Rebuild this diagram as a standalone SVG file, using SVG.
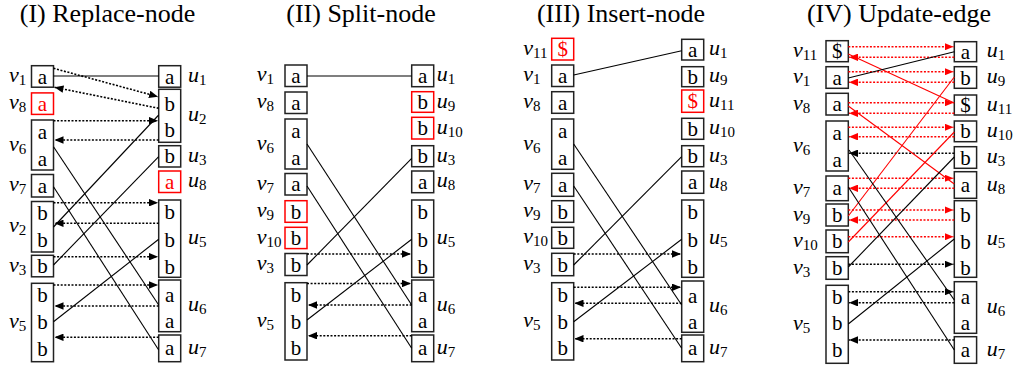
<svg xmlns="http://www.w3.org/2000/svg" width="1017" height="370" viewBox="0 0 1017 370" font-family="'Liberation Serif', 'Times New Roman', Times, 'DejaVu Serif', serif">
<style>
.box{fill:#fff;stroke:#222;stroke-width:1.5}
.rbox{fill:#fff;stroke:#f00;stroke-width:1.5}
.ch{font-family:'Liberation Serif','Times New Roman',Times,'DejaVu Serif',serif;font-size:21px;text-anchor:middle;fill:#000}
.rch{fill:#f00}
.lb{font-family:'Liberation Serif','Times New Roman',Times,'DejaVu Serif',serif;font-size:22px;fill:#000}
.it{font-style:italic}
.sub{font-size:15px}
.title{font-family:'Liberation Serif','Times New Roman',Times,'DejaVu Serif',serif;font-size:26px;text-anchor:middle;fill:#000}
.sl{stroke:#000;stroke-width:1.1;fill:none}
.rsl{stroke:#f00;stroke-width:1.1;fill:none}
.dl{stroke:#000;stroke-width:1.6;stroke-dasharray:2 1.6;fill:none;marker-end:url(#ah)}
.rdl{stroke:#f00;stroke-width:1.6;stroke-dasharray:2 1.6;fill:none;marker-end:url(#ahr)}
</style>
<defs>
<marker id="ah" viewBox="0 0 9 7.5" refX="9" refY="3.75" markerWidth="9" markerHeight="7.5" markerUnits="userSpaceOnUse" orient="auto"><path d="M0,0L9,3.75L0,7.5z" fill="#000"/></marker>
<marker id="ahr" viewBox="0 0 9 7.5" refX="9" refY="3.75" markerWidth="9" markerHeight="7.5" markerUnits="userSpaceOnUse" orient="auto"><path d="M0,0L9,3.75L0,7.5z" fill="#f00"/></marker>
</defs>
<rect width="1017" height="370" fill="#fff"/>

<g id="titles">
<text class="title" x="107.5" y="22">(I) Replace-node</text>
<text class="title" x="361" y="22">(II) Split-node</text>
<text class="title" x="621" y="22">(III) Insert-node</text>
<text class="title" x="899" y="22">(IV) Update-edge</text>
</g>

<!-- Panel I -->
<g id="p1-v1"><rect class="box" x="31.5" y="65.7" width="22" height="21.5"/><text class="ch" x="42.5" y="83.5">a</text><text class="lb" x="9" y="82"><tspan class="it">v</tspan><tspan class="sub" dy="3">1</tspan></text></g>
<g id="p1-v8"><rect class="rbox" x="31.5" y="92.9" width="22" height="21.5"/><text class="ch rch" x="42.5" y="110.6">a</text><text class="lb" x="9" y="109"><tspan class="it">v</tspan><tspan class="sub" dy="3">8</tspan></text></g>
<g id="p1-v6"><rect class="box" x="31.5" y="120" width="22" height="50"/><text class="ch" x="42.5" y="138.5">a</text><text class="ch" x="42.5" y="165.5">a</text><text class="lb" x="9" y="150.5"><tspan class="it">v</tspan><tspan class="sub" dy="3">6</tspan></text></g>
<g id="p1-v7"><rect class="box" x="31.5" y="174.5" width="22" height="22.5"/><text class="ch" x="42.5" y="192.7">a</text><text class="lb" x="9" y="191.2"><tspan class="it">v</tspan><tspan class="sub" dy="3">7</tspan></text></g>
<g id="p1-v2"><rect class="box" x="31.5" y="201.5" width="22" height="50.5"/><text class="ch" x="42.5" y="220">b</text><text class="ch" x="42.5" y="247">b</text><text class="lb" x="9" y="232.2"><tspan class="it">v</tspan><tspan class="sub" dy="3">2</tspan></text></g>
<g id="p1-v3"><rect class="box" x="31.5" y="255.3" width="22" height="21.5"/><text class="ch" x="42.5" y="273">b</text><text class="lb" x="9" y="271.5"><tspan class="it">v</tspan><tspan class="sub" dy="3">3</tspan></text></g>
<g id="p1-v5"><rect class="box" x="31.5" y="283.3" width="22" height="78.4"/><text class="ch" x="42.5" y="302">b</text><text class="ch" x="42.5" y="329">b</text><text class="ch" x="42.5" y="356">b</text><text class="lb" x="9" y="328"><tspan class="it">v</tspan><tspan class="sub" dy="3">5</tspan></text></g>
<g id="p1-u1"><rect class="box" x="158.7" y="65.7" width="22" height="21.5"/><text class="ch" x="169.7" y="83.5">a</text><text class="lb" x="188" y="82"><tspan class="it">u</tspan><tspan class="sub" dy="3">1</tspan></text></g>
<g id="p1-u2"><rect class="box" x="158.7" y="89.3" width="22" height="53"/><text class="ch" x="169.7" y="111">b</text><text class="ch" x="169.7" y="137">b</text><text class="lb" x="188" y="121.3"><tspan class="it">u</tspan><tspan class="sub" dy="3">2</tspan></text></g>
<g id="p1-u3"><rect class="box" x="158.7" y="145.7" width="22" height="21.3"/><text class="ch" x="169.7" y="163.3">b</text><text class="lb" x="188" y="161.8"><tspan class="it">u</tspan><tspan class="sub" dy="3">3</tspan></text></g>
<g id="p1-u8"><rect class="rbox" x="158.7" y="171" width="22" height="21.5"/><text class="ch rch" x="169.7" y="188.7">a</text><text class="lb" x="188" y="187.2"><tspan class="it">u</tspan><tspan class="sub" dy="3">8</tspan></text></g>
<g id="p1-u5"><rect class="box" x="158.7" y="200" width="22" height="77.3"/><text class="ch" x="169.7" y="218.7">b</text><text class="ch" x="169.7" y="247">b</text><text class="ch" x="169.7" y="273.7">b</text><text class="lb" x="188" y="244"><tspan class="it">u</tspan><tspan class="sub" dy="3">5</tspan></text></g>
<g id="p1-u6"><rect class="box" x="158.7" y="280" width="22" height="51.7"/><text class="ch" x="169.7" y="302">a</text><text class="ch" x="169.7" y="327.7">a</text><text class="lb" x="188" y="311.3"><tspan class="it">u</tspan><tspan class="sub" dy="3">6</tspan></text></g>
<g id="p1-u7"><rect class="box" x="158.7" y="335" width="22" height="26.7"/><text class="ch" x="169.7" y="355.3">a</text><text class="lb" x="188" y="353.8"><tspan class="it">u</tspan><tspan class="sub" dy="3">7</tspan></text></g>

<!-- Panel II -->
<g id="p2-v1"><rect class="box" x="285" y="65" width="22" height="21.5"/><text class="ch" x="296" y="82.8">a</text><text class="lb" x="256.7" y="81.3"><tspan class="it">v</tspan><tspan class="sub" dy="3">1</tspan></text></g>
<g id="p2-v8"><rect class="box" x="285" y="92" width="22" height="21.5"/><text class="ch" x="296" y="109.8">a</text><text class="lb" x="256.7" y="108.3"><tspan class="it">v</tspan><tspan class="sub" dy="3">8</tspan></text></g>
<g id="p2-v6"><rect class="box" x="285" y="119" width="22" height="50"/><text class="ch" x="296" y="137.5">a</text><text class="ch" x="296" y="164.5">a</text><text class="lb" x="256.7" y="149.5"><tspan class="it">v</tspan><tspan class="sub" dy="3">6</tspan></text></g>
<g id="p2-v7"><rect class="box" x="285" y="173.5" width="22" height="21.5"/><text class="ch" x="296" y="191.3">a</text><text class="lb" x="256.7" y="189.8"><tspan class="it">v</tspan><tspan class="sub" dy="3">7</tspan></text></g>
<g id="p2-v9"><rect class="rbox" x="285" y="200.7" width="22" height="21.6"/><text class="ch" x="296" y="218.5">b</text><text class="lb" x="256.7" y="217"><tspan class="it">v</tspan><tspan class="sub" dy="3">9</tspan></text></g>
<g id="p2-v10"><rect class="rbox" x="285" y="227.3" width="22" height="21.3"/><text class="ch" x="296" y="245">b</text><text class="lb" x="256.7" y="243.5"><tspan class="it">v</tspan><tspan class="sub" dy="3">10</tspan></text></g>
<g id="p2-v3"><rect class="box" x="285" y="253.5" width="22" height="22"/><text class="ch" x="296" y="271.5">b</text><text class="lb" x="256.7" y="270"><tspan class="it">v</tspan><tspan class="sub" dy="3">3</tspan></text></g>
<g id="p2-v5"><rect class="box" x="285" y="282.7" width="22" height="77.3"/><text class="ch" x="296" y="302">b</text><text class="ch" x="296" y="328.7">b</text><text class="ch" x="296" y="355.3">b</text><text class="lb" x="256.7" y="326.8"><tspan class="it">v</tspan><tspan class="sub" dy="3">5</tspan></text></g>
<g id="p2-u1"><rect class="box" x="411.7" y="65" width="22" height="21.7"/><text class="ch" x="422.7" y="82.8">a</text><text class="lb" x="436.7" y="81.3"><tspan class="it">u</tspan><tspan class="sub" dy="3">1</tspan></text></g>
<g id="p2-u9"><rect class="rbox" x="411.7" y="91.7" width="22" height="20.6"/><text class="ch" x="422.7" y="109">b</text><text class="lb" x="436.7" y="107.5"><tspan class="it">u</tspan><tspan class="sub" dy="3">9</tspan></text></g>
<g id="p2-u10"><rect class="rbox" x="411.7" y="117.3" width="22" height="21.7"/><text class="ch" x="422.7" y="135.2">b</text><text class="lb" x="436.7" y="133.7"><tspan class="it">u</tspan><tspan class="sub" dy="3">10</tspan></text></g>
<g id="p2-u3"><rect class="box" x="411.7" y="145.7" width="22" height="21"/><text class="ch" x="422.7" y="163.2">b</text><text class="lb" x="436.7" y="161.7"><tspan class="it">u</tspan><tspan class="sub" dy="3">3</tspan></text></g>
<g id="p2-u8"><rect class="box" x="411.7" y="171" width="22" height="21.7"/><text class="ch" x="422.7" y="188.8">a</text><text class="lb" x="436.7" y="187.3"><tspan class="it">u</tspan><tspan class="sub" dy="3">8</tspan></text></g>
<g id="p2-u5"><rect class="box" x="411.7" y="200" width="22" height="77.3"/><text class="ch" x="422.7" y="218.7">b</text><text class="ch" x="422.7" y="247">b</text><text class="ch" x="422.7" y="273.7">b</text><text class="lb" x="436.7" y="244"><tspan class="it">u</tspan><tspan class="sub" dy="3">5</tspan></text></g>
<g id="p2-u6"><rect class="box" x="411.7" y="280" width="22" height="51.7"/><text class="ch" x="422.7" y="302">a</text><text class="ch" x="422.7" y="327.7">a</text><text class="lb" x="436.7" y="311.3"><tspan class="it">u</tspan><tspan class="sub" dy="3">6</tspan></text></g>
<g id="p2-u7"><rect class="box" x="411.7" y="335" width="22" height="26.7"/><text class="ch" x="422.7" y="355.3">a</text><text class="lb" x="436.7" y="353.8"><tspan class="it">u</tspan><tspan class="sub" dy="3">7</tspan></text></g>

<!-- Panel III -->
<g id="p3-v11"><rect class="rbox" x="551.7" y="38.3" width="22" height="21.7"/><text class="ch rch" x="562.7" y="56.2">$</text><text class="lb" x="523.3" y="54.7"><tspan class="it">v</tspan><tspan class="sub" dy="3">11</tspan></text></g>
<g id="p3-v1"><rect class="box" x="551.7" y="65" width="22" height="21.5"/><text class="ch" x="562.7" y="82.8">a</text><text class="lb" x="523.3" y="81.3"><tspan class="it">v</tspan><tspan class="sub" dy="3">1</tspan></text></g>
<g id="p3-v8"><rect class="box" x="551.7" y="91.7" width="22" height="21.6"/><text class="ch" x="562.7" y="109.5">a</text><text class="lb" x="523.3" y="108"><tspan class="it">v</tspan><tspan class="sub" dy="3">8</tspan></text></g>
<g id="p3-v6"><rect class="box" x="551.7" y="119" width="22" height="50.3"/><text class="ch" x="562.7" y="137.5">a</text><text class="ch" x="562.7" y="164.5">a</text><text class="lb" x="523.3" y="149.5"><tspan class="it">v</tspan><tspan class="sub" dy="3">6</tspan></text></g>
<g id="p3-v7"><rect class="box" x="551.7" y="173.3" width="22" height="23"/><text class="ch" x="562.7" y="191.8">a</text><text class="lb" x="523.3" y="190.3"><tspan class="it">v</tspan><tspan class="sub" dy="3">7</tspan></text></g>
<g id="p3-v9"><rect class="box" x="551.7" y="200.7" width="22" height="21.6"/><text class="ch" x="562.7" y="218.5">b</text><text class="lb" x="523.3" y="217"><tspan class="it">v</tspan><tspan class="sub" dy="3">9</tspan></text></g>
<g id="p3-v10"><rect class="box" x="551.7" y="227.3" width="22" height="21"/><text class="ch" x="562.7" y="244.8">b</text><text class="lb" x="523.3" y="243.3"><tspan class="it">v</tspan><tspan class="sub" dy="3">10</tspan></text></g>
<g id="p3-v3"><rect class="box" x="551.7" y="253.3" width="22" height="22.4"/><text class="ch" x="562.7" y="271.5">b</text><text class="lb" x="523.3" y="270"><tspan class="it">v</tspan><tspan class="sub" dy="3">3</tspan></text></g>
<g id="p3-v5"><rect class="box" x="551.7" y="282.7" width="22" height="77.3"/><text class="ch" x="562.7" y="302">b</text><text class="ch" x="562.7" y="328.7">b</text><text class="ch" x="562.7" y="355.3">b</text><text class="lb" x="523.3" y="326.8"><tspan class="it">v</tspan><tspan class="sub" dy="3">5</tspan></text></g>
<g id="p3-u1"><rect class="box" x="681.7" y="39.3" width="22" height="20.7"/><text class="ch" x="692.7" y="56.7">a</text><text class="lb" x="709" y="55.2"><tspan class="it">u</tspan><tspan class="sub" dy="3">1</tspan></text></g>
<g id="p3-u9"><rect class="box" x="681.7" y="66.7" width="22" height="20"/><text class="ch" x="692.7" y="83.7">b</text><text class="lb" x="709" y="82.2"><tspan class="it">u</tspan><tspan class="sub" dy="3">9</tspan></text></g>
<g id="p3-u11"><rect class="rbox" x="681.7" y="90" width="22" height="22.3"/><text class="ch rch" x="692.7" y="108.2">$</text><text class="lb" x="709" y="106.7"><tspan class="it">u</tspan><tspan class="sub" dy="3">11</tspan></text></g>
<g id="p3-u10"><rect class="box" x="681.7" y="118.3" width="22" height="21"/><text class="ch" x="692.7" y="135.8">b</text><text class="lb" x="709" y="134.3"><tspan class="it">u</tspan><tspan class="sub" dy="3">10</tspan></text></g>
<g id="p3-u3"><rect class="box" x="681.7" y="145.7" width="22" height="21"/><text class="ch" x="692.7" y="163.2">b</text><text class="lb" x="709" y="161.7"><tspan class="it">u</tspan><tspan class="sub" dy="3">3</tspan></text></g>
<g id="p3-u8"><rect class="box" x="681.7" y="171" width="22" height="22.3"/><text class="ch" x="692.7" y="189.2">a</text><text class="lb" x="709" y="187.7"><tspan class="it">u</tspan><tspan class="sub" dy="3">8</tspan></text></g>
<g id="p3-u5"><rect class="box" x="681.7" y="200" width="22" height="77.3"/><text class="ch" x="692.7" y="218.7">b</text><text class="ch" x="692.7" y="247">b</text><text class="ch" x="692.7" y="273.7">b</text><text class="lb" x="709" y="244"><tspan class="it">u</tspan><tspan class="sub" dy="3">5</tspan></text></g>
<g id="p3-u6"><rect class="box" x="681.7" y="281" width="22" height="51.3"/><text class="ch" x="692.7" y="303">a</text><text class="ch" x="692.7" y="328.7">a</text><text class="lb" x="709" y="312.2"><tspan class="it">u</tspan><tspan class="sub" dy="3">6</tspan></text></g>
<g id="p3-u7"><rect class="box" x="681.7" y="335" width="22" height="26.7"/><text class="ch" x="692.7" y="355.3">a</text><text class="lb" x="709" y="353.8"><tspan class="it">u</tspan><tspan class="sub" dy="3">7</tspan></text></g>

<!-- Panel IV -->
<g id="p4-v11"><rect class="box" x="826" y="40.7" width="22.3" height="21"/><text class="ch" x="837.2" y="58.2">$</text><text class="lb" x="793" y="56.7"><tspan class="it">v</tspan><tspan class="sub" dy="3">11</tspan></text></g>
<g id="p4-v1"><rect class="box" x="826" y="66.7" width="22.3" height="21.6"/><text class="ch" x="837.2" y="84.5">a</text><text class="lb" x="793" y="83"><tspan class="it">v</tspan><tspan class="sub" dy="3">1</tspan></text></g>
<g id="p4-v8"><rect class="box" x="826" y="93.3" width="22.3" height="21.7"/><text class="ch" x="837.2" y="111.2">a</text><text class="lb" x="793" y="109.7"><tspan class="it">v</tspan><tspan class="sub" dy="3">8</tspan></text></g>
<g id="p4-v6"><rect class="box" x="826" y="121" width="22.3" height="50"/><text class="ch" x="837.2" y="140">a</text><text class="ch" x="837.2" y="167">a</text><text class="lb" x="793" y="151.5"><tspan class="it">v</tspan><tspan class="sub" dy="3">6</tspan></text></g>
<g id="p4-v7"><rect class="box" x="826" y="176" width="22.3" height="24.7"/><text class="ch" x="837.2" y="195.3">a</text><text class="lb" x="793" y="193.8"><tspan class="it">v</tspan><tspan class="sub" dy="3">7</tspan></text></g>
<g id="p4-v9"><rect class="box" x="826" y="204" width="22.3" height="22"/><text class="ch" x="837.2" y="222">b</text><text class="lb" x="793" y="220.5"><tspan class="it">v</tspan><tspan class="sub" dy="3">9</tspan></text></g>
<g id="p4-v10"><rect class="box" x="826" y="230" width="22.3" height="22.7"/><text class="ch" x="837.2" y="248.3">b</text><text class="lb" x="793" y="246.8"><tspan class="it">v</tspan><tspan class="sub" dy="3">10</tspan></text></g>
<g id="p4-v3"><rect class="box" x="826" y="256.7" width="22.3" height="22.6"/><text class="ch" x="837.2" y="275">b</text><text class="lb" x="793" y="273.5"><tspan class="it">v</tspan><tspan class="sub" dy="3">3</tspan></text></g>
<g id="p4-v5"><rect class="box" x="826" y="285.3" width="22.3" height="78"/><text class="ch" x="837.2" y="303.7">b</text><text class="ch" x="837.2" y="330.3">b</text><text class="ch" x="837.2" y="357">b</text><text class="lb" x="793" y="329.8"><tspan class="it">v</tspan><tspan class="sub" dy="3">5</tspan></text></g>
<g id="p4-u1"><rect class="box" x="954.3" y="41.7" width="22.3" height="20"/><text class="ch" x="965.5" y="58.7">a</text><text class="lb" x="986.7" y="57.2"><tspan class="it">u</tspan><tspan class="sub" dy="3">1</tspan></text></g>
<g id="p4-u9"><rect class="box" x="954.3" y="66.7" width="22.3" height="21.6"/><text class="ch" x="965.5" y="84.5">b</text><text class="lb" x="986.7" y="83"><tspan class="it">u</tspan><tspan class="sub" dy="3">9</tspan></text></g>
<g id="p4-u11"><rect class="box" x="954.3" y="95" width="22.3" height="20"/><text class="ch" x="965.5" y="112">$</text><text class="lb" x="986.7" y="110.5"><tspan class="it">u</tspan><tspan class="sub" dy="3">11</tspan></text></g>
<g id="p4-u10"><rect class="box" x="954.3" y="121" width="22.3" height="20.7"/><text class="ch" x="965.5" y="138.3">b</text><text class="lb" x="986.7" y="136.8"><tspan class="it">u</tspan><tspan class="sub" dy="3">10</tspan></text></g>
<g id="p4-u3"><rect class="box" x="954.3" y="146.7" width="22.3" height="21.6"/><text class="ch" x="965.5" y="164.5">b</text><text class="lb" x="986.7" y="163"><tspan class="it">u</tspan><tspan class="sub" dy="3">3</tspan></text></g>
<g id="p4-u8"><rect class="box" x="954.3" y="171.7" width="22.3" height="26.6"/><text class="ch" x="965.5" y="192">a</text><text class="lb" x="986.7" y="190.5"><tspan class="it">u</tspan><tspan class="sub" dy="3">8</tspan></text></g>
<g id="p4-u5"><rect class="box" x="954.3" y="200.7" width="22.3" height="76.6"/><text class="ch" x="965.5" y="222">b</text><text class="ch" x="965.5" y="248.7">b</text><text class="ch" x="965.5" y="275.3">b</text><text class="lb" x="986.7" y="244.5"><tspan class="it">u</tspan><tspan class="sub" dy="3">5</tspan></text></g>
<g id="p4-u6"><rect class="box" x="954.3" y="281.7" width="22.3" height="51.6"/><text class="ch" x="965.5" y="303.7">a</text><text class="ch" x="965.5" y="330.3">a</text><text class="lb" x="986.7" y="313"><tspan class="it">u</tspan><tspan class="sub" dy="3">6</tspan></text></g>
<g id="p4-u7"><rect class="box" x="954.3" y="336.7" width="22.3" height="26.6"/><text class="ch" x="965.5" y="357">a</text><text class="lb" x="986.7" y="355.5"><tspan class="it">u</tspan><tspan class="sub" dy="3">7</tspan></text></g>

<g id="connectors">
<!-- Panel I -->
<line class="sl" x1="53.5" y1="76" x2="158.7" y2="76"/>
<line class="sl" x1="53.5" y1="146.7" x2="158.7" y2="305"/>
<line class="sl" x1="53.5" y1="186.7" x2="158.7" y2="350"/>
<line class="sl" x1="158.7" y1="115" x2="53.5" y2="227"/>
<line class="sl" x1="158.7" y1="156.7" x2="53.5" y2="265"/>
<line class="sl" x1="158.7" y1="239.3" x2="53.5" y2="321.7"/>
<line class="dl" x1="53.5" y1="68.3" x2="158" y2="96.7"/>
<line class="dl" x1="158.7" y1="108.3" x2="54.5" y2="87.3"/>
<line class="dl" x1="53.5" y1="120.7" x2="158" y2="120.7"/>
<line class="dl" x1="158.7" y1="140" x2="54.5" y2="140"/>
<line class="dl" x1="53.5" y1="202.7" x2="158" y2="202.7"/>
<line class="dl" x1="158.7" y1="223.3" x2="54.5" y2="223.3"/>
<line class="dl" x1="53.5" y1="256.7" x2="158" y2="256.7"/>
<line class="dl" x1="53.5" y1="285" x2="158" y2="285"/>
<line class="dl" x1="158.7" y1="306" x2="54.5" y2="306"/>
<line class="dl" x1="158.7" y1="337.3" x2="54.5" y2="337.3"/>
<!-- Panel II -->
<line class="sl" x1="307" y1="76" x2="411.7" y2="76"/>
<line class="sl" x1="307" y1="144" x2="411.7" y2="305"/>
<line class="sl" x1="411.7" y1="158.3" x2="307" y2="265"/>
<line class="sl" x1="307" y1="186" x2="411.7" y2="348.3"/>
<line class="sl" x1="411.7" y1="239.3" x2="307" y2="320"/>
<line class="dl" x1="307" y1="254" x2="411" y2="254"/>
<line class="dl" x1="307" y1="283.5" x2="411" y2="283.5"/>
<line class="dl" x1="411.7" y1="305" x2="308" y2="305"/>
<line class="dl" x1="411.7" y1="335.7" x2="308" y2="335.7"/>
<!-- Panel III -->
<line class="sl" x1="573.7" y1="75" x2="681.7" y2="50.7"/>
<line class="sl" x1="573.7" y1="144" x2="681.7" y2="305"/>
<line class="sl" x1="681.7" y1="156.7" x2="573.7" y2="265"/>
<line class="sl" x1="573.7" y1="186" x2="681.7" y2="348.3"/>
<line class="sl" x1="681.7" y1="239.3" x2="573.7" y2="321.7"/>
<line class="dl" x1="573.7" y1="254" x2="681" y2="254"/>
<line class="dl" x1="573.7" y1="287.3" x2="681" y2="287.3"/>
<line class="dl" x1="681.7" y1="303.3" x2="574.5" y2="303.3"/>
<line class="dl" x1="681.7" y1="338.7" x2="574.5" y2="338.7"/>
<!-- Panel IV -->
<line class="rdl" x1="848.3" y1="46.7" x2="953.5" y2="46.7"/>
<line class="rdl" x1="954.3" y1="57.3" x2="849" y2="57.3"/>
<line class="rdl" x1="848.3" y1="71.7" x2="953.5" y2="71.7"/>
<line class="rdl" x1="954.3" y1="82.3" x2="849" y2="82.3"/>
<line class="rdl" x1="848.3" y1="102.7" x2="953.5" y2="102.7"/>
<line class="rdl" x1="954.3" y1="113.3" x2="849" y2="113.3"/>
<line class="rdl" x1="848.3" y1="127.3" x2="953.5" y2="127.3"/>
<line class="rdl" x1="954.3" y1="136.7" x2="849" y2="136.7"/>
<line class="rdl" x1="848.3" y1="178.3" x2="953.5" y2="178.3"/>
<line class="rdl" x1="954.3" y1="188.3" x2="849" y2="188.3"/>
<line class="rdl" x1="848.3" y1="210" x2="953.5" y2="210"/>
<line class="rdl" x1="954.3" y1="220" x2="849" y2="220"/>
<line class="rdl" x1="848.3" y1="236.7" x2="953.5" y2="236.7"/>
<line class="dl" x1="954.3" y1="153.3" x2="849" y2="153.3"/>
<line class="dl" x1="848.3" y1="264.3" x2="953.5" y2="264.3"/>
<line class="dl" x1="848.3" y1="291.7" x2="953.5" y2="291.7"/>
<line class="dl" x1="954.3" y1="302.7" x2="849" y2="302.7"/>
<line class="dl" x1="954.3" y1="340" x2="849" y2="340"/>
<line class="rsl" x1="848.3" y1="54" x2="954.3" y2="103"/>
<line class="rsl" x1="848.3" y1="106" x2="954.3" y2="184"/>
<line class="rsl" x1="954.3" y1="77" x2="848.3" y2="216"/>
<line class="rsl" x1="954.3" y1="132" x2="848.3" y2="242"/>
<line class="sl" x1="848.3" y1="78" x2="954.3" y2="51.7"/>
<line class="sl" x1="849" y1="150" x2="954.3" y2="300"/>
<line class="sl" x1="848.3" y1="187" x2="954.3" y2="350"/>
<line class="sl" x1="954.3" y1="157" x2="848.3" y2="267"/>
<line class="sl" x1="954.3" y1="239" x2="848.3" y2="324"/>
</g>
</svg>
